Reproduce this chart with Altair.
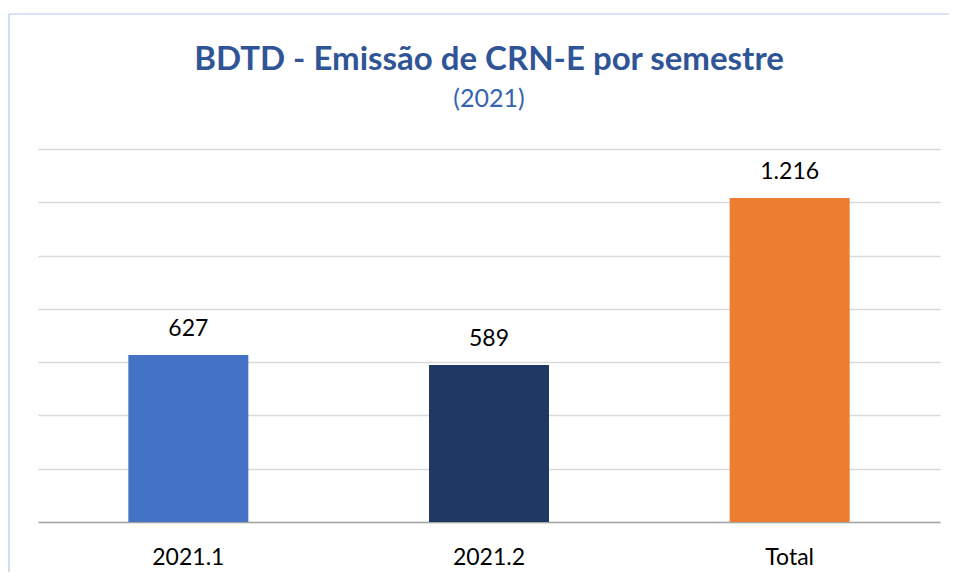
import altair as alt
import pandas as pd

categories = ["2021.1", "2021.2", "Total"]
values = [627, 589, 1216]
colors = ["#4472C4", "#1F3864", "#ED7D31"]
title_text = "BDTD - Emissão de CRN-E por semestre"
subtitle_text = "(2021)"

def fmt(v):
    return f"{v:,}".replace(",", ".")

df = pd.DataFrame({
    "cat": categories,
    "val": values,
    "label": [fmt(v) for v in values],
    "color": colors,
})

FONT = "Lato"

base = alt.Chart(df)

bars = base.mark_bar(size=120).encode(
    x=alt.X("cat:N", sort=categories, title=None,
            scale=alt.Scale(paddingInner=0, paddingOuter=0),
            axis=alt.Axis(labelAngle=0, labelFont=FONT, labelFontSize=23,
                          labelColor="#000000", labelPadding=24, ticks=False,
                          domainColor="#A6A6A6", domainWidth=1.5)),
    y=alt.Y("val:Q", title=None,
            scale=alt.Scale(domain=[0, 1400]),
            axis=alt.Axis(values=list(range(0, 1401, 200)), labels=False, ticks=False,
                          domain=False, gridColor="#D9D9D9", gridWidth=1.3)),
    color=alt.Color("color:N", scale=None),
)

text = base.mark_text(font=FONT, fontSize=23, color="#000000", baseline="alphabetic", dy=-19).encode(
    x=alt.X("cat:N", sort=categories),
    y="val:Q",
    text="label:N",
)

one = pd.DataFrame({"a": [0]})

border_top = alt.Chart(one).mark_rule(color="#B4C7E7", strokeWidth=1.2).encode(
    x=alt.value(-29), x2=alt.value(960), y=alt.value(-135)
)
border_left = alt.Chart(one).mark_rule(color="#B4C7E7", strokeWidth=1.2).encode(
    x=alt.value(-29), y=alt.value(-135), y2=alt.value(440)
)

title_mark = alt.Chart(pd.DataFrame({"t": [title_text]})).mark_text(
    font=FONT, fontSize=33, fontWeight="bold", color="#2F5597", baseline="alphabetic", align="center"
).encode(x=alt.value(451), y=alt.value(-79), text="t:N")

subtitle_mark = alt.Chart(pd.DataFrame({"t": [subtitle_text]})).mark_text(
    font=FONT, fontSize=25, color="#3564B0", baseline="alphabetic", align="center"
).encode(x=alt.value(451), y=alt.value(-42), text="t:N")

chart = alt.layer(border_top, border_left, title_mark, subtitle_mark, bars, text).properties(
    width=902,
    height=373,
    padding={"left": 30, "top": 141, "right": 9, "bottom": 50},
    autosize="none",
).configure_view(stroke=None)

chart.save("out.html", embed_options={"renderer": "svg", "actions": False})
